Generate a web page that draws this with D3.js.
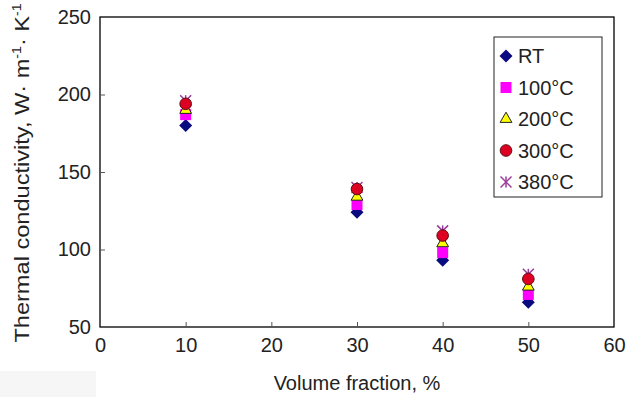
<!DOCTYPE html>
<html>
<head>
<meta charset="utf-8">
<script src="https://cdn.jsdelivr.net/npm/d3@7"></script>
<style>
  body { margin: 0; background: #fff; }
  text { font-family: "Liberation Sans", Arial, sans-serif; }
</style>
</head>
<body>
<div id="chart"></div>
<script>
// data
const fractions = [10, 30, 40, 50]
const seriesNames = ['RT', '100°C', '200°C', '300°C', '380°C']
const rt = [180, 124, 93, 66]
const t100 = [187, 129, 98, 71]
const t200 = [190, 134, 104, 76]
const t300 = [194, 139, 109, 81]
const t380 = [196, 140, 112, 84]
const xTicks = [0, 10, 20, 30, 40, 50, 60]
const yTicks = [50, 100, 150, 200, 250]

const width = 634, height = 397
const margin = { top: 17, right: 20, bottom: 70, left: 100 }
const fs = 20

const svg = d3.select('#chart').append('svg')
  .attr('width', width).attr('height', height)

const x = d3.scaleLinear().domain([0, 60]).range([margin.left, width - margin.right])
const y = d3.scaleLinear().domain([50, 250]).range([height - margin.bottom, margin.top])

// faint grey patch bottom-left of the original scan
svg.append('rect').attr('x', 0).attr('y', 371).attr('width', 96).attr('height', 26).attr('fill', '#f6f6f6')

// frame
svg.append('rect')
  .attr('x', x(0)).attr('y', y(250))
  .attr('width', x(60) - x(0)).attr('height', y(50) - y(250))
  .attr('fill', 'none').attr('stroke', '#000').attr('stroke-width', 1.3)

const xAxis = svg.append('g').attr('transform', `translate(0,${y(50)})`)
  .call(d3.axisBottom(x).tickValues(xTicks).tickSizeInner(-5).tickSizeOuter(0).tickPadding(11))
const yAxis = svg.append('g').attr('transform', `translate(${x(0)},0)`)
  .call(d3.axisLeft(y).tickValues(yTicks).tickSizeInner(-5).tickSizeOuter(0).tickPadding(9))
for (const g of [xAxis, yAxis]) {
  g.select('.domain').remove()
  g.selectAll('.tick line').attr('stroke', '#555')
  g.selectAll('.tick text').attr('font-size', fs).attr('fill', '#222')
    .style('font-family', '"Liberation Sans", Arial, sans-serif')
}
xAxis.selectAll('.tick line').filter(d => d === 0 || d === 60).remove()
yAxis.selectAll('.tick line').filter(d => d === 50 || d === 250).remove()

// axis titles
svg.append('text')
  .attr('x', (x(0) + x(60)) / 2).attr('y', 390)
  .attr('text-anchor', 'middle').attr('font-size', fs).attr('fill', '#222')
  .text('Volume fraction, %')

// the y title is stretched along its length in the original
const yt = svg.append('text')
  .attr('transform', `translate(29,173) rotate(-90) scale(1.18,1)`)
  .attr('text-anchor', 'middle').attr('font-size', fs).attr('fill', '#222')
yt.append('tspan').text('Thermal conductivity, W· m')
yt.append('tspan').attr('font-size', 12).attr('dy', -8).text('-1')
yt.append('tspan').attr('dy', 8).text('· K')
yt.append('tspan').attr('font-size', 12).attr('dy', -8).text('-1')

// marker drawers
function marker(g, kind) {
  if (kind === 0) {
    g.append('path').attr('d', 'M0,-6.5L6.5,0L0,6.5L-6.5,0Z').attr('fill', '#0a0a80')
  } else if (kind === 1) {
    g.append('rect').attr('x', -5.5).attr('y', -5.5).attr('width', 11).attr('height', 11)
      .attr('fill', '#ff00ff')
  } else if (kind === 2) {
    g.append('path').attr('d', d3.symbol(d3.symbolTriangle, 60)())
      .attr('fill', '#ffff00').attr('stroke', '#222').attr('stroke-width', 1)
  } else if (kind === 3) {
    g.append('circle').attr('r', 5.8)
      .attr('fill', '#dd0022').attr('stroke', '#5a1010').attr('stroke-width', 1)
  } else {
    const s = 5.5
    const p = [[-s, -s, s, s], [-s, s, s, -s], [0, -s, 0, s]]
    for (const l of p) {
      g.append('line').attr('x1', l[0]).attr('y1', l[1]).attr('x2', l[2]).attr('y2', l[3])
        .attr('stroke', '#9a3a9a').attr('stroke-width', 1.5)
    }
  }
}

const allSeries = [rt, t100, t200, t300, t380]
// star drawn first so circles sit partly over it, like the original
const drawOrder = [4, 0, 1, 2, 3]
drawOrder.forEach(si => {
  allSeries[si].forEach((v, i) => {
    const g = svg.append('g').attr('transform', `translate(${x(fractions[i])},${y(v)})`)
    marker(g, si)
  })
})

// legend
const lg = svg.append('g').attr('transform', 'translate(494,37)')
lg.append('rect').attr('width', 108).attr('height', 160)
  .attr('fill', '#fff').attr('stroke', '#222').attr('stroke-width', 1)
seriesNames.forEach((name, i) => {
  const row = lg.append('g').attr('transform', `translate(12,${19 + i * 31.5})`)
  marker(row.append('g'), i)
  row.append('text').attr('x', 12).attr('y', 7).attr('font-size', fs).attr('fill', '#222').text(name)
})
</script>
</body>
</html>
